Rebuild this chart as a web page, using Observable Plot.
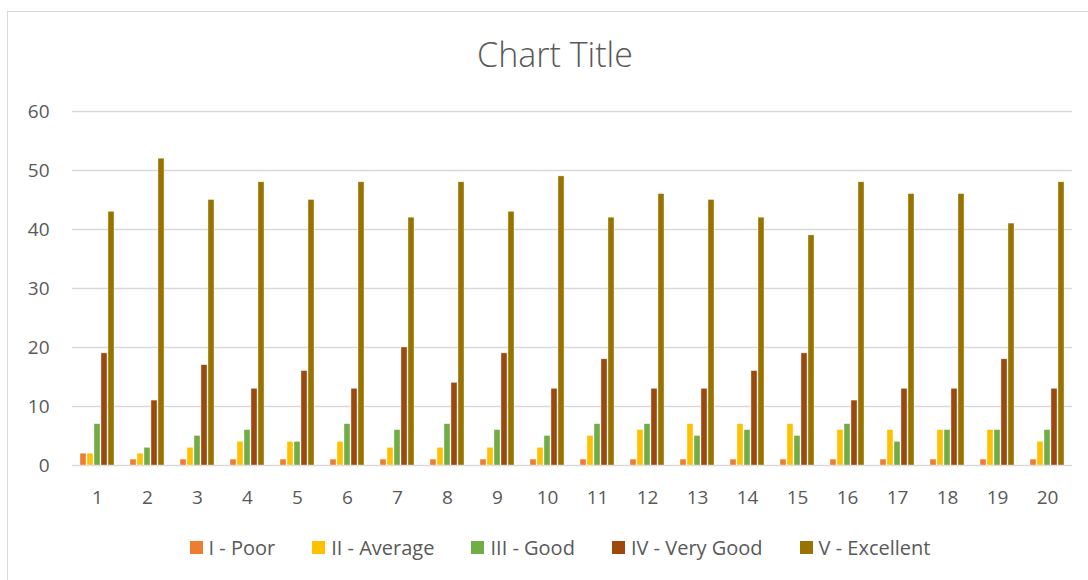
<!DOCTYPE html>
<html>
<head>
<meta charset="utf-8">
<script src="https://cdn.jsdelivr.net/npm/d3@7"></script>
<script src="https://cdn.jsdelivr.net/npm/@observablehq/plot@0.6"></script>
<style>
  html, body { margin: 0; padding: 0; background: #fff; }
  #wrap { position: relative; width: 1088px; height: 580px; overflow: hidden; font-family: "Open Sans", Lato, sans-serif; color: #595959; }
  #border { position: absolute; left: 7px; top: 11px; width: 1200px; height: 700px; border: 1px solid #d9d9d9; box-sizing: border-box; }
  #title { position: absolute; left: 0; width: 1110px; top: 31px; text-align: center; font-size: 34px; font-weight: 300; color: #595959; }
  #chart { position: absolute; left: 0; top: 90px; width: 1073px; height: 420px; overflow: hidden; }
  #chart svg { max-width: none !important; }
  #legend { position: absolute; left: 0; width: 1120px; top: 534px; display: flex; justify-content: center; gap: 37px; font-size: 20px; color: #595959; }
  .item { display: flex; align-items: center; gap: 6px; }
  .sw { width: 13px; height: 13px; display: inline-block; }
</style>
</head>
<body>
<div id="wrap">
  <div id="border"></div>
  <div id="title">Chart Title</div>
  <div id="chart"></div>
  <div id="legend"></div>
</div>
<script>
const items = ["1","2","3","4","5","6","7","8","9","10","11","12","13","14","15","16","17","18","19","20"];
const series = ["I - Poor", "II - Average", "III - Good", "IV - Very Good", "V - Excellent"];
const colors = ["#ED7D31", "#FFC000", "#70AD47", "#9E480E", "#997300"];
const poor     = [2,1,1,1,1,1,1,1,1,1,1,1,1,1,1,1,1,1,1,1];
const average  = [2,2,3,4,4,4,3,3,3,3,5,6,7,7,7,6,6,6,6,4];
const good     = [7,3,5,6,4,7,6,7,6,5,7,7,5,6,5,7,4,6,6,6];
const veryGood = [19,11,17,13,16,13,20,14,19,13,18,13,13,16,19,11,13,13,18,13];
const excellent= [43,52,45,48,45,48,42,48,43,49,42,46,45,42,39,48,46,46,41,48];
const yTicks = [0,10,20,30,40,50,60];

const values = [poor, average, good, veryGood, excellent];
const data = items.flatMap((it, i) => series.map((s, j) => ({item: it, series: s, value: values[j][i]})));

const chart = Plot.plot({
  width: 1088,
  height: 420,
  marginLeft: 72,
  marginRight: 16,
  marginTop: 21,
  marginBottom: 45,
  style: {fontFamily: "'Open Sans', Lato, sans-serif", fontSize: "19px", color: "#595959", background: "transparent", maxWidth: "none"},
  fx: {domain: items, padding: 0, label: null, tickSize: 0, tickPadding: 25, axis: "bottom"},
  x: {domain: series, axis: null, paddingInner: 0.2, paddingOuter: 0.9},
  y: {domain: [0, 60], ticks: yTicks, tickSize: 0, tickPadding: 23, label: null},
  color: {domain: series, range: colors},
  marks: [
    Plot.ruleY(yTicks, {stroke: "#d9d9d9", strokeWidth: 1.3}),
    Plot.barY(data, {fx: "item", x: "series", y: "value", fill: "series", stroke: "white", strokeWidth: 0.6, strokeOpacity: 0.6})
  ]
});
chart.style.maxWidth = "none";
document.getElementById("chart").appendChild(chart);

const legend = document.getElementById("legend");
series.forEach((s, i) => {
  const d = document.createElement("div");
  d.className = "item";
  const sw = document.createElement("span");
  sw.className = "sw";
  sw.style.background = colors[i];
  const t = document.createElement("span");
  t.textContent = s;
  d.appendChild(sw);
  d.appendChild(t);
  legend.appendChild(d);
});
</script>
</body>
</html>
